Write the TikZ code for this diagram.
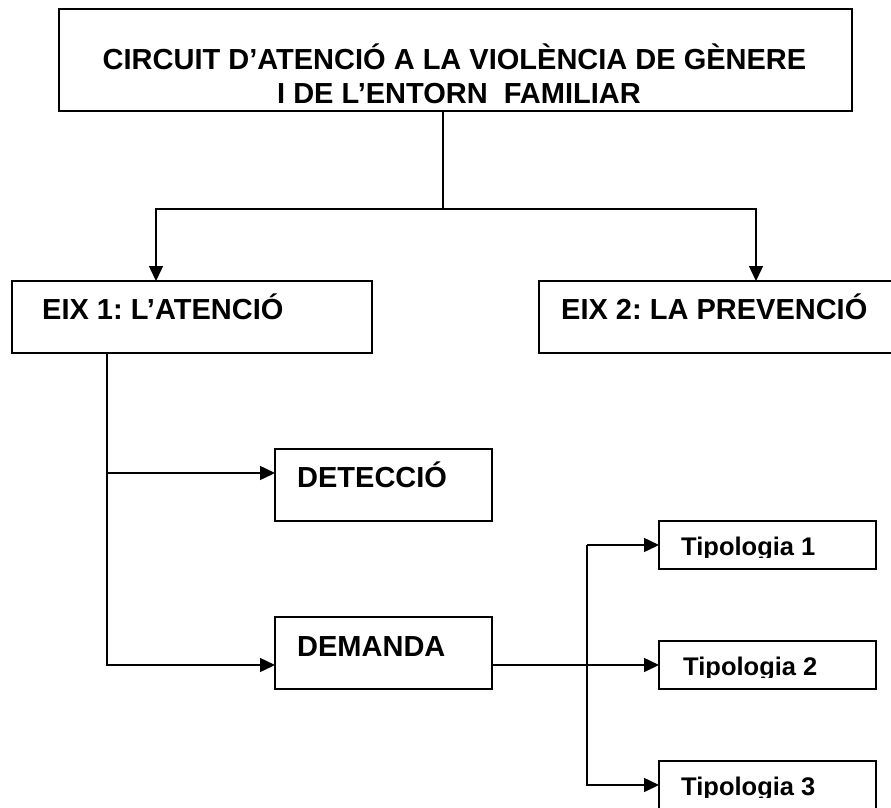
\documentclass[tikz,border=0pt]{standalone}
\usepackage{fontspec}
\setmainfont{Liberation Sans}
\usetikzlibrary{arrows.meta}
\frenchspacing
\begin{document}
\begin{tikzpicture}[x=1pt,y=-1pt,
  box/.style={draw=black, line width=1.8pt, rectangle, inner sep=0pt, outer sep=0pt, fill=none},
  big/.style={inner sep=0pt, font=\bfseries\fontsize{29}{33}\selectfont},
  small/.style={inner sep=0pt, font=\bfseries\fontsize{25.5}{29}\selectfont},
  conn/.style={line width=1.5pt, draw=black},
  arr/.style={conn, -{Triangle[length=15pt,width=14pt]}}]
\clip (0,0) rectangle (891,808);
\fill[white] (0,0) rectangle (891,808);
% boxes
\node[box, minimum width=793pt, minimum height=102pt] (title) at (455.5,60) {};
\node[box, minimum width=360pt, minimum height=72pt] (eix1) at (192,317) {};
\node[box, minimum width=361pt, minimum height=72pt] (eix2) at (719.5,317) {};
\node[box, minimum width=217pt, minimum height=72pt] (det) at (383.5,485) {};
\node[box, minimum width=217pt, minimum height=72pt] (dem) at (383.5,653) {};
\node[box, minimum width=217pt, minimum height=48pt] (t1) at (767.5,545) {};
\node[box, minimum width=217pt, minimum height=48pt] (t2) at (767.5,665) {};
\node[box, minimum width=217pt, minimum height=48pt] (t3) at (767.5,785) {};
% texts
\node[big, anchor=base] (title1) at (454.5,70) {CIRCUIT D’ATENCIÓ A LA VIOLÈNCIA DE GÈNERE};
\node[big, anchor=base] (title2) at (459,103) {I DE L’ENTORN~ FAMILIAR};
\node[big, anchor=base west] (eix1t) at (42,319) {EIX 1: L’ATENCIÓ};
\node[big, anchor=base west] (eix2t) at (561,319) {EIX 2: LA PREVENCIÓ};
\node[big, anchor=base west] (dett) at (297,487) {DETECCIÓ};
\node[big, anchor=base west] (demt) at (297,656) {DEMANDA};
\begin{scope}
\clip (660,522) rectangle (875,557);
\node[small, anchor=base west] (t1t) at (681,555) {Tipologia 1};
\end{scope}
\begin{scope}
\clip (660,642) rectangle (875,677);
\node[small, anchor=base west] (t2t) at (683,675) {Tipologia 2};
\end{scope}
\begin{scope}
\clip (660,762) rectangle (875,797);
\node[small, anchor=base west] (t3t) at (681,795) {Tipologia 3};
\end{scope}
% connector coordinates
\coordinate (j0) at (443,209);
\coordinate (c1) at (156,209);
\coordinate (c2) at (756,209);
\coordinate (v) at (107,0);
\coordinate (pdet) at (275,473);
\coordinate (pdem) at (275,665);
\coordinate (vt) at (587,0);
% connectors
\draw[conn] (title.south -| j0) -- (j0);
\draw[arr] (j0) -- (c1) -- (c1 |- eix1.north);
\draw[arr] (j0) -- (c2) -- (c2 |- eix2.north);
\draw[arr] (eix1.south -| v) |- (pdem);
\draw[arr] (v |- pdet) -- (pdet);
\draw[arr] (dem.east |- pdem) -- (t2.west |- pdem);
\draw[arr] (vt |- t1.west) -- (t1.west);
\draw[arr] (vt |- t1.west) -- (vt |- t3.west) -- (t3.west);
\end{tikzpicture}
\end{document}
